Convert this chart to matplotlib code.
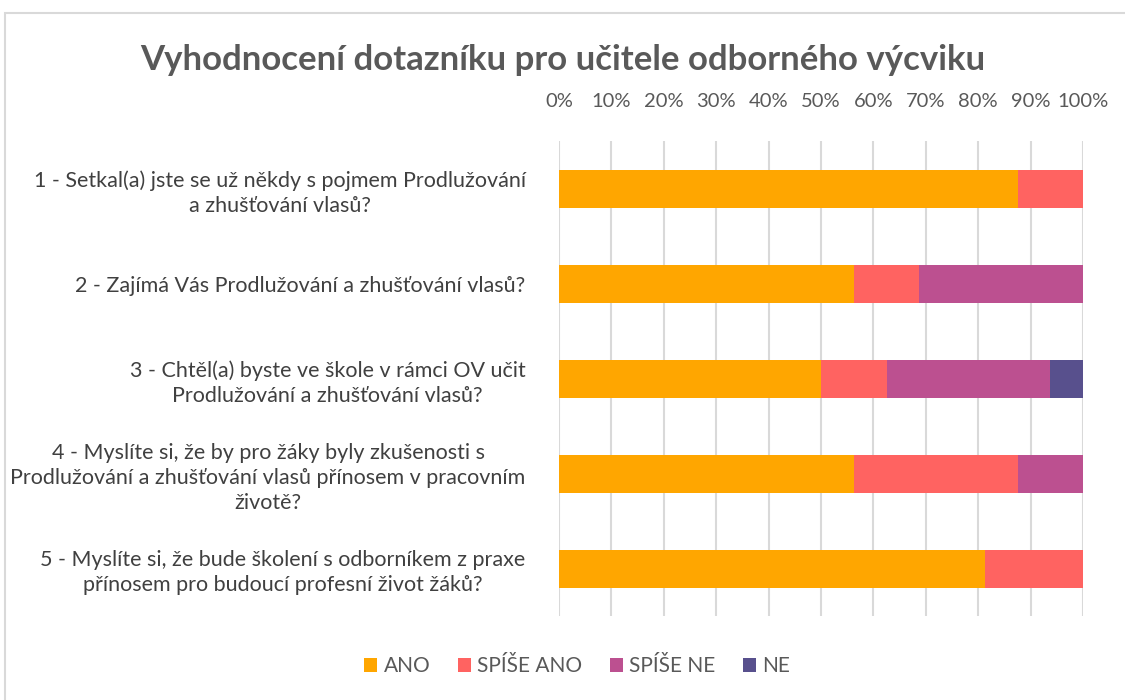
import matplotlib
matplotlib.use("Agg")
import matplotlib.pyplot as plt
from matplotlib.patches import Rectangle
from matplotlib.ticker import PercentFormatter

plt.rcParams['font.family'] = ['Lato', 'DejaVu Sans']

questions = [
    "1 - Setkal(a) jste se už někdy s pojmem Prodlužování\na zhušťování vlasů?",
    "2 - Zajímá Vás Prodlužování a zhušťování vlasů?",
    "3 - Chtěl(a) byste ve škole v rámci OV učit\nProdlužování a zhušťování vlasů?",
    "4 - Myslíte si, že by pro žáky byly zkušenosti s\nProdlužování a zhušťování vlasů přínosem v pracovním\nživotě?",
    "5 - Myslíte si, že bude školení s odborníkem z praxe\npřínosem pro budoucí profesní život žáků?",
]
series_names = ["ANO", "SPÍŠE ANO", "SPÍŠE NE", "NE"]
ano = [87.5, 56.25, 50.0, 56.25, 81.25]
spise_ano = [12.5, 12.5, 12.5, 31.25, 18.75]
spise_ne = [0.0, 31.25, 31.25, 12.5, 0.0]
ne = [0.0, 0.0, 6.25, 0.0, 0.0]
colors = ["#FFA600", "#FF6361", "#BC5090", "#58508D"]
xticks = [0, 10, 20, 30, 40, 50, 60, 70, 80, 90, 100]

fig = plt.figure(figsize=(11.25, 7), dpi=100)
fig.patches.append(Rectangle((5/1125, -0.01), 1.2, 1 - 13/700 + 0.01, transform=fig.transFigure,
                             fill=False, edgecolor="#d9d9d9", linewidth=1.5))
ax = fig.add_axes([559/1125, 1 - 616/700, (1083 - 559)/1125, (616 - 141)/700])

ypos = list(range(len(questions)))
left = [0.0] * len(questions)
for name, vals, c in zip(series_names, [ano, spise_ano, spise_ne, ne], colors):
    ax.barh(ypos, vals, left=left, height=0.4, color=c, label=name, zorder=3)
    left = [l + v for l, v in zip(left, vals)]

ax.set_xlim(0, 100)
ax.set_ylim(len(questions) - 0.5, -0.5)
ax.set_xticks(xticks)
ax.xaxis.set_major_formatter(PercentFormatter(decimals=0))
ax.xaxis.tick_top()
ax.tick_params(axis='x', length=0, pad=22, labelsize=14.5, labelcolor="#595959")
ax.set_yticks(ypos)
ax.set_yticklabels(questions, fontsize=15.5, color="#404040", multialignment='center',
                   linespacing=1.3)
ax.tick_params(axis='y', length=0, pad=24)
ax.grid(axis='x', color="#d9d9d9", linewidth=1.5, zorder=0)
for s in ax.spines.values():
    s.set_visible(False)

fig.text(0.5, 1 - 60/700, "Vyhodnocení dotazníku pro učitele odborného výcviku",
         ha='center', va='center', fontsize=25, fontweight='bold', color="#595959")

handles, labels = ax.get_legend_handles_labels()
fig.legend(handles, labels, loc='center', bbox_to_anchor=(0.513, 1 - 666/700), ncol=4,
           frameon=False, fontsize=15, labelcolor="#595959", handlelength=0.65, handleheight=0.65,
           handletextpad=0.3, columnspacing=1.3)

fig.savefig("out.png", dpi=100)
